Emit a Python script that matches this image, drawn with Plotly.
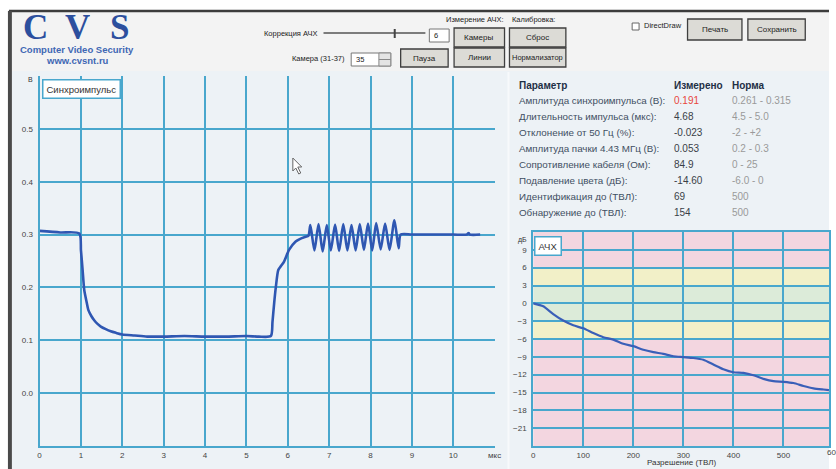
import plotly.graph_objects as go

W, H = 836, 469


def px(x):
    return x / W


def py(y):
    return 1 - y / H


# ---------------- data ----------------
sync_t = [0.0, 0.5, 0.96, 1.0, 1.04, 1.08, 1.13, 1.18, 1.25, 1.32, 1.40, 1.48, 1.60, 1.72,
          1.85, 2.0, 2.3, 2.6, 3.0, 3.5, 4.0, 4.5, 5.0, 5.3, 5.59, 5.63, 5.67, 5.71, 5.77,
          5.83, 5.91, 6.03, 6.19, 6.30, 6.43, 6.50,
          6.545, 6.644, 6.743, 6.843, 6.942, 7.040, 7.143, 7.240, 7.341, 7.440, 7.540,
          7.640, 7.740, 7.840, 7.939, 8.040, 8.137, 8.245, 8.352, 8.460, 8.577, 8.680,
          8.73, 9.0, 9.5, 10.0, 10.33, 10.37, 10.40, 10.65]
sync_v = [0.307, 0.304, 0.302, 0.270, 0.233, 0.195, 0.175, 0.157, 0.146, 0.138, 0.131, 0.126,
          0.121, 0.117, 0.114, 0.111, 0.109, 0.107, 0.107, 0.108, 0.107, 0.107, 0.108, 0.107,
          0.108, 0.135, 0.170, 0.200, 0.233, 0.240, 0.249, 0.271, 0.287, 0.292, 0.296, 0.298,
          0.318, 0.270, 0.320, 0.268, 0.318, 0.270, 0.319, 0.269, 0.320, 0.270, 0.318,
          0.270, 0.320, 0.271, 0.321, 0.270, 0.322, 0.272, 0.321, 0.271, 0.327, 0.274,
          0.300, 0.300, 0.300, 0.300, 0.300, 0.303, 0.300, 0.300]

res_tvl = [0, 20, 40, 60, 80, 100, 120, 140, 160, 180, 200, 220, 240, 260, 280, 300, 320,
           340, 360, 380, 400, 420, 440, 460, 480, 500, 520, 540, 560, 580, 591]
res_db = [0.0, -0.5, -1.8, -2.9, -3.7, -4.2, -5.0, -5.7, -6.1, -6.8, -7.2, -7.8, -8.2, -8.5,
          -8.9, -9.05, -9.2, -9.5, -10.3, -11.1, -11.6, -11.7, -12.1, -12.7, -13.1, -13.2,
          -13.4, -13.9, -14.3, -14.5, -14.6]

x1_ticks = [0, 1, 2, 3, 4, 5, 6, 7, 8, 9, 10, 11]
x1_text = ["0", "1", "2", "3", "4", "5", "6", "7", "8", "9", "10", "мкс"]
y1_ticks = [0.0, 0.1, 0.2, 0.3, 0.4, 0.5]
y1_text = ["0.0", "0.1", "0.2", "0.3", "0.4", "0.5"]
x2_ticks = [0, 100, 200, 300, 400, 500]
y2_ticks = [-21, -18, -15, -12, -9, -6, -3, 0, 3, 6, 9]

band_lo = [-24, -6, -3, 3, 6]
band_hi = [-6, -3, 3, 6, 12]
band_kind = ["bad", "warn", "ok", "warn", "bad"]

params = ["Амплитуда синхроимпульса (В):", "Длительность импульса (мкс):",
          "Отклонение от 50 Гц (%):", "Амплитуда пачки 4.43 МГц (В):",
          "Сопротивление кабеля (Ом):", "Подавление цвета (дБ):",
          "Идентификация до (ТВЛ):", "Обнаружение до (ТВЛ):"]
measured = ["0.191", "4.68", "-0.023", "0.053", "84.9", "-14.60", "69", "154"]
norms = ["0.261 - 0.315", "4.5 - 5.0", "-2 - +2", "0.2 - 0.3", "0 - 25", "-6.0 - 0", "500", "500"]

# ---------------- styles ----------------
GRID = "#49a7cd"
PANEL = "#edf2f6"
HEAD = "#f3f3f3"
LINE = "#2f57b2"
FONT = "Liberation Sans"
band_color = {"bad": "#f3d6e0", "warn": "#f2f0c8", "ok": "#dcebd9"}

fig = go.Figure()

fig.add_trace(go.Scatter(x=sync_t, y=sync_v, mode="lines", xaxis="x", yaxis="y",
                         line=dict(color=LINE, width=2.6, shape="spline", smoothing=0.7),
                         hoverinfo="skip", showlegend=False))
fig.add_trace(go.Scatter(x=res_tvl, y=res_db, mode="lines", xaxis="x2", yaxis="y2",
                         line=dict(color="#3a5fb8", width=2.2, shape="spline", smoothing=0.6),
                         hoverinfo="skip", showlegend=False))

shapes = []
ann = []

# backgrounds / frame
shapes.append(dict(type="rect", xref="paper", yref="paper", x0=px(10), x1=px(836),
                   y0=py(71), y1=py(12), fillcolor=HEAD, line=dict(width=0), layer="below"))
shapes.append(dict(type="rect", xref="paper", yref="paper", x0=px(10), x1=px(836),
                   y0=py(469), y1=py(71), fillcolor=PANEL, line=dict(width=0), layer="below"))
shapes.append(dict(type="line", xref="paper", yref="paper", x0=px(7), x1=px(836),
                   y0=py(11), y1=py(11), line=dict(color="#3c3c3c", width=2.5)))
shapes.append(dict(type="rect", xref="paper", yref="paper", x0=px(6), x1=px(10),
                   y0=py(469), y1=py(11), fillcolor="#4a4a4a", line=dict(width=0)))
shapes.append(dict(type="line", xref="paper", yref="paper", x0=px(512), x1=px(512),
                   y0=py(469), y1=py(72), line=dict(color="#f7f9fb", width=2)))

# bands on the frequency-response chart
for lo, hi, kind in zip(band_lo, band_hi, band_kind):
    shapes.append(dict(type="rect", xref="x2", yref="y2", x0=0, x1=600, y0=lo, y1=hi,
                       fillcolor=band_color[kind], line=dict(width=0), layer="below"))

# ---------------- header ----------------
for letter, cx in zip(["C", "V", "S"], [34, 76, 119]):
    ann.append(dict(xref="paper", yref="paper", x=px(cx), y=py(27), text="<b>%s</b>" % letter,
                    showarrow=False, xanchor="center", yanchor="middle", height=26,
                    font=dict(family="Liberation Serif", size=35, color="#2c4f9e")))
ann.append(dict(xref="paper", yref="paper", x=px(76), y=py(49.5), text="<b>Computer Video Security</b>",
                showarrow=False, xanchor="center", yanchor="middle",
                font=dict(family=FONT, size=9.5, color="#3f67b3")))
ann.append(dict(xref="paper", yref="paper", x=px(76), y=py(60), text="<b>www.cvsnt.ru</b>",
                showarrow=False, xanchor="center", yanchor="middle",
                font=dict(family=FONT, size=9.5, color="#3f67b3")))

small = dict(family=FONT, size=7.5, color="#222")
labels = [(320, 33, "Коррекция АЧХ", "right"), (349, 59, "Камера (31-37)", "right"),
          (447, 20, "Измерение АЧХ:", "left"), (514, 20, "Калибровка:", "left"),
          (647, 26, "DirectDraw", "left")]
for x, y, t, a in labels:
    ann.append(dict(xref="paper", yref="paper", x=px(x), y=py(y), text=t, showarrow=False,
                    xanchor=a, yanchor="middle", font=small))

# slider
shapes.append(dict(type="line", xref="paper", yref="paper", x0=px(325), x1=px(428),
                   y0=py(33), y1=py(33), line=dict(color="#555", width=1.5)))
shapes.append(dict(type="line", xref="paper", yref="paper", x0=px(397), x1=px(397),
                   y0=py(29), y1=py(38), line=dict(color="#444", width=2)))
# text box "6"
shapes.append(dict(type="rect", xref="paper", yref="paper", x0=px(432), x1=px(452),
                   y0=py(42), y1=py(29), fillcolor="white", line=dict(color="#777", width=1)))
ann.append(dict(xref="paper", yref="paper", x=px(435), y=py(35.5), text="6", showarrow=False,
                xanchor="left", yanchor="middle", font=small))
# spin box "35"
shapes.append(dict(type="rect", xref="paper", yref="paper", x0=px(353), x1=px(393),
                   y0=py(66), y1=py(53), fillcolor="white", line=dict(color="#777", width=1)))
shapes.append(dict(type="rect", xref="paper", yref="paper", x0=px(381), x1=px(393),
                   y0=py(66), y1=py(53), fillcolor="#e4e4e4", line=dict(color="#888", width=1)))
shapes.append(dict(type="line", xref="paper", yref="paper", x0=px(381), x1=px(393),
                   y0=py(59.5), y1=py(59.5), line=dict(color="#888", width=1)))
ann.append(dict(xref="paper", yref="paper", x=px(356), y=py(59.5), text="35", showarrow=False,
                xanchor="left", yanchor="middle", font=small))
# checkbox
shapes.append(dict(type="rect", xref="paper", yref="paper", x0=px(637), x1=px(644),
                   y0=py(30), y1=py(23), fillcolor="white", line=dict(color="#666", width=1)))

buttons = [(403, 49, 451, 67, "Пауза"), (457, 28, 508, 47, "Камеры"), (457, 48, 508, 67, "Линии"),
           (513, 28, 570, 47, "Сброс"), (513, 48, 570, 67, "Нормализатор"),
           (693, 19, 748, 40, "Печать"), (754, 19, 812, 40, "Сохранить")]
for x0, y0, x1, y1, t in buttons:
    shapes.append(dict(type="rect", xref="paper", yref="paper", x0=px(x0), x1=px(x1),
                       y0=py(y1), y1=py(y0), fillcolor="#dcdbd6",
                       line=dict(color="#3f3f3f", width=1.3)))
    ann.append(dict(xref="paper", yref="paper", x=px((x0 + x1) / 2), y=py((y0 + y1) / 2), text=t,
                    showarrow=False, xanchor="center", yanchor="middle",
                    font=dict(family=FONT, size=7.5 if len(t) > 10 else 8, color="#222")))

# ---------------- chart labels ----------------
ann.append(dict(xref="paper", yref="paper", x=px(40), y=py(79), text="Синхроимпульс",
                showarrow=False, xanchor="left", yanchor="top", bgcolor="white",
                bordercolor=GRID, borderwidth=1.5, borderpad=3,
                font=dict(family=FONT, size=9.5, color="#333")))
ann.append(dict(xref="paper", yref="paper", x=px(538), y=py(236), text="АЧХ",
                showarrow=False, xanchor="left", yanchor="top", bgcolor="white",
                bordercolor=GRID, borderwidth=1.5, borderpad=3,
                font=dict(family=FONT, size=9.5, color="#333")))
ann.append(dict(xref="paper", yref="paper", x=px(33), y=py(80), text="В", showarrow=False,
                xanchor="right", yanchor="middle", font=dict(family=FONT, size=7, color="#333")))
ann.append(dict(xref="paper", yref="paper", x=px(533), y=py(240), text="дБ", showarrow=False,
                xanchor="right", yanchor="middle", font=dict(family=FONT, size=7, color="#333")))
ann.append(dict(xref="paper", yref="paper", x=px(687), y=py(462), text="Разрешение (ТВЛ)",
                showarrow=False, xanchor="center", yanchor="middle",
                font=dict(family=FONT, size=8, color="#333")))
ann.append(dict(xref="paper", yref="paper", x=px(841), y=py(452), text="600",
                showarrow=False, xanchor="center", yanchor="middle",
                font=dict(family=FONT, size=8, color="#444")))

# cursor
cur = [(294, 158), (294, 171), (297, 168), (300, 174), (302, 173), (299, 167), (303, 167)]
path = "M " + " L ".join("%f,%f" % (px(a), py(b)) for a, b in cur) + " Z"
shapes.append(dict(type="path", xref="paper", yref="paper", path=path, fillcolor="white",
                   line=dict(color="#666", width=1)))

# ---------------- table ----------------
hdr = dict(family=FONT, size=10, color="#1e2f45")
ann.append(dict(xref="paper", yref="paper", x=px(521), y=py(85), text="<b>Параметр</b>",
                showarrow=False, xanchor="left", yanchor="middle", font=hdr))
ann.append(dict(xref="paper", yref="paper", x=px(677), y=py(85), text="<b>Измерено</b>",
                showarrow=False, xanchor="left", yanchor="middle", font=hdr))
ann.append(dict(xref="paper", yref="paper", x=px(736), y=py(85), text="<b>Норма</b>",
                showarrow=False, xanchor="left", yanchor="middle", font=hdr))
for i, (p, m, n) in enumerate(zip(params, measured, norms)):
    yy = 100.5 + 16 * i
    ann.append(dict(xref="paper", yref="paper", x=px(521), y=py(yy), text=p, showarrow=False,
                    xanchor="left", yanchor="middle",
                    font=dict(family=FONT, size=9.8, color="#3f4f62")))
    ann.append(dict(xref="paper", yref="paper", x=px(677), y=py(yy), text=m, showarrow=False,
                    xanchor="left", yanchor="middle",
                    font=dict(family=FONT, size=10, color="#e8463c" if i == 0 else "#3a3f48")))
    ann.append(dict(xref="paper", yref="paper", x=px(736), y=py(yy), text=n, showarrow=False,
                    xanchor="left", yanchor="middle",
                    font=dict(family=FONT, size=10, color="#9a9a9a")))

tickf = dict(family=FONT, size=8, color="#444")
fig.update_layout(
    width=W, height=H, margin=dict(l=0, r=0, t=0, b=0),
    paper_bgcolor="white", plot_bgcolor=PANEL,
    showlegend=False,
    xaxis=dict(domain=[px(38), px(498)], range=[0, 11], tickvals=x1_ticks, ticktext=x1_text,
               showgrid=True, gridcolor=GRID, gridwidth=1.5, zeroline=False,
               showline=True, linecolor=GRID, linewidth=2, ticks="", tickfont=tickf,
               anchor="y", fixedrange=True),
    yaxis=dict(domain=[py(446), py(76)], range=[-0.1, 0.6], tickvals=y1_ticks, ticktext=y1_text,
               showgrid=True, gridcolor=GRID, gridwidth=1.5, zeroline=False,
               showline=True, linecolor=GRID, linewidth=2, ticks="", tickfont=tickf,
               ticklabelstandoff=3, anchor="x", fixedrange=True),
    xaxis2=dict(domain=[px(537), 1], range=[0, 591], tickvals=x2_ticks,
                showgrid=True, gridcolor=GRID, gridwidth=1.5, zeroline=False,
                showline=True, linecolor=GRID, linewidth=2, mirror=True, ticks="",
                tickfont=tickf, anchor="y2", fixedrange=True),
    yaxis2=dict(domain=[py(446), py(232)], range=[-24, 12], tickvals=y2_ticks,
                showgrid=True, gridcolor=GRID, gridwidth=1.5, zeroline=False,
                showline=True, linecolor=GRID, linewidth=2, mirror=True, ticks="",
                tickfont=tickf, ticklabelstandoff=3, anchor="x2", fixedrange=True),
    shapes=shapes, annotations=ann,
)

fig.write_html("out.html", config={"displayModeBar": False},
               post_script="document.body.style.margin='0';document.body.style.padding='0';"
                           "document.body.style.overflow='hidden';")
